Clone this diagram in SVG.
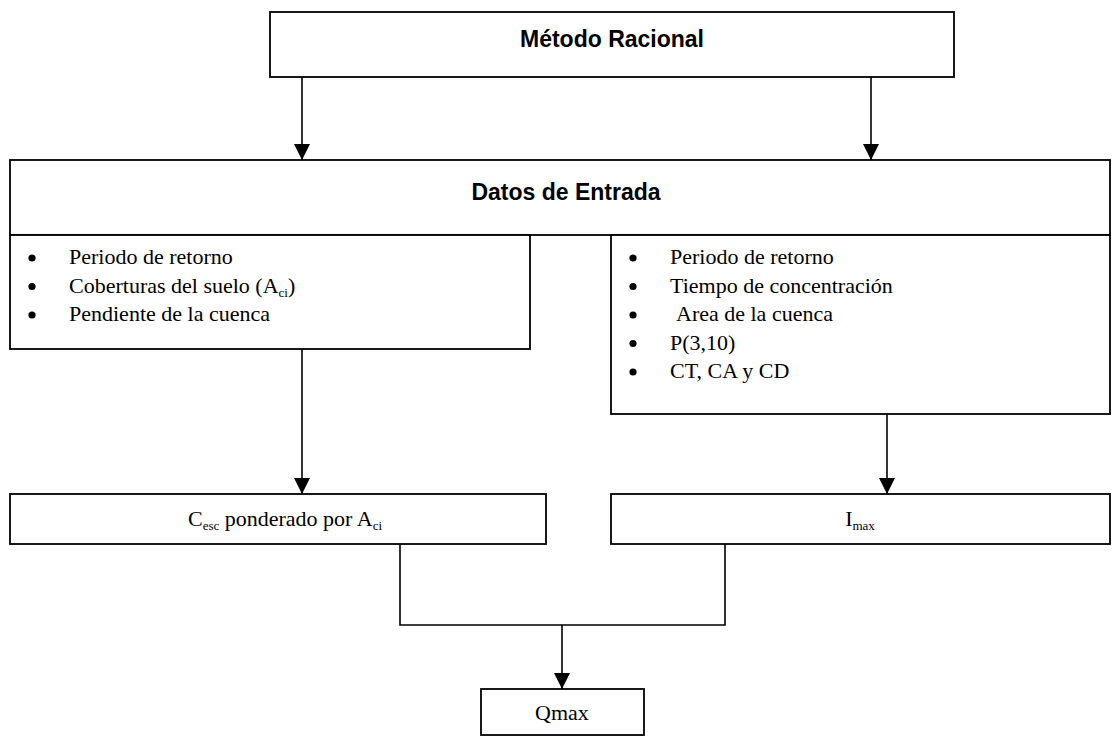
<svg xmlns="http://www.w3.org/2000/svg" width="1120" height="736" viewBox="0 0 1120 736">
<style>
.box{fill:#fff;stroke:#000;stroke-width:1.8}
.ln{fill:none;stroke:#000;stroke-width:1.6}
.ttl{font-family:"Liberation Sans",Arial,sans-serif;font-weight:bold;font-size:23px;fill:#000}
.tx{font-family:"Liberation Serif","Times New Roman",serif;font-size:22px;fill:#000}
.sub{font-size:13px}
.dot{fill:#000}
</style>
<defs>
<marker id="ah" markerWidth="16" markerHeight="18" refX="16" refY="8" orient="auto" markerUnits="userSpaceOnUse" viewBox="0 0 16 16">
<path d="M0,0 L16,8 L0,16 Z" fill="#000"/>
</marker>
</defs>
<rect width="1120" height="736" fill="#fff"/>
<g id="connectors">
<line class="ln" x1="302" y1="77" x2="302" y2="160" marker-end="url(#ah)"/>
<line class="ln" x1="871" y1="77" x2="871" y2="160" marker-end="url(#ah)"/>
<line class="ln" x1="302" y1="349" x2="302" y2="494" marker-end="url(#ah)"/>
<line class="ln" x1="887" y1="414" x2="887" y2="494" marker-end="url(#ah)"/>
<polyline class="ln" points="400,544 400,625 725,625 725,544"/>
<line class="ln" x1="562" y1="625" x2="562" y2="689" marker-end="url(#ah)"/>
</g>
<g id="metodo">
<rect class="box" x="270" y="12" width="684" height="65"/>
<text class="ttl" x="612" y="47" text-anchor="middle">Método Racional</text>
</g>
<g id="datos">
<rect class="box" x="10" y="160" width="1100" height="75"/>
<text class="ttl" x="566" y="200" text-anchor="middle">Datos de Entrada</text>
</g>
<g id="datos-izq">
<rect class="box" x="10" y="235" width="520" height="114"/>
<circle class="dot" cx="32" cy="258" r="3.6"/>
<circle class="dot" cx="32" cy="286.5" r="3.6"/>
<circle class="dot" cx="32" cy="315" r="3.6"/>
<text class="tx" x="69" y="264">Periodo de retorno</text>
<text class="tx" x="69" y="292.5">Coberturas del suelo (A<tspan class="sub" dy="4">ci</tspan><tspan dy="-4">)</tspan></text>
<text class="tx" x="69" y="321">Pendiente de la cuenca</text>
</g>
<g id="datos-der">
<rect class="box" x="611" y="235" width="499" height="179"/>
<circle class="dot" cx="633" cy="258" r="3.6"/>
<circle class="dot" cx="633" cy="286.5" r="3.6"/>
<circle class="dot" cx="633" cy="315" r="3.6"/>
<circle class="dot" cx="633" cy="343.5" r="3.6"/>
<circle class="dot" cx="633" cy="372" r="3.6"/>
<text class="tx" x="670" y="264">Periodo de retorno</text>
<text class="tx" x="670" y="292.5">Tiempo de concentración</text>
<text class="tx" x="676" y="321">Area de la cuenca</text>
<text class="tx" x="670" y="349.5">P(3,10)</text>
<text class="tx" x="670" y="378">CT, CA y CD</text>
</g>
<g id="cesc">
<rect class="box" x="10" y="494" width="536" height="50"/>
<text class="tx" x="285" y="526" text-anchor="middle">C<tspan class="sub" dy="4">esc</tspan><tspan dy="-4"> ponderado por A</tspan><tspan class="sub" dy="4">ci</tspan></text>
</g>
<g id="imax">
<rect class="box" x="611" y="494" width="499" height="50"/>
<text class="tx" x="860" y="526" text-anchor="middle">I<tspan class="sub" dy="4">max</tspan></text>
</g>
<g id="qmax">
<rect class="box" x="481" y="689" width="163" height="46"/>
<text class="tx" x="562" y="720" text-anchor="middle">Qmax</text>
</g>
</svg>
